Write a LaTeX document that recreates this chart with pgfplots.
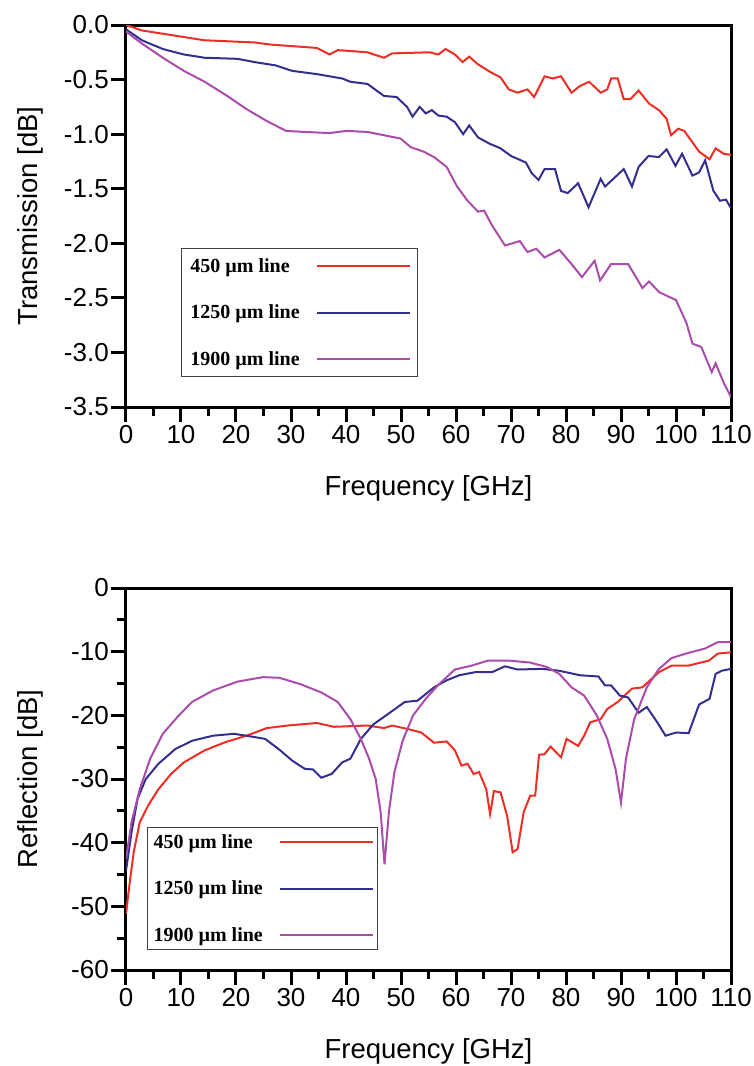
\documentclass[border=0pt]{standalone}
\usepackage{fontspec}
\setmainfont{Liberation Sans}
\newfontfamily\legfont{Liberation Serif}
\usepackage{pgfplots}
\pgfplotsset{compat=1.18}

\definecolor{cRed}{RGB}{236,46,36}
\definecolor{cBlue}{RGB}{52,46,140}
\definecolor{cPurple}{RGB}{170,76,170}

\pgfplotsset{
  panel/.style={
    scale only axis, width=605pt, height=382pt,
    xmin=0, xmax=110,
    xtick={0,10,...,110}, minor xtick={5,15,...,105},
    xtick pos=bottom, ytick pos=left,
    tick align=outside,
    major tick length=15pt, minor tick length=9pt,
    every tick/.style={black, line width=3pt},
    axis line style={line width=3pt},
    tick label style={font=\fontsize{26}{30}\selectfont},
    xticklabel style={inner sep=3pt},
    yticklabel style={inner sep=2pt},
    /pgf/number format/assume math mode=true,
    label style={font=\fontsize{27.5}{31}\selectfont},
    xlabel={Frequency [GHz]},
    xlabel style={at={([yshift=-81pt]axis description cs:0.5,0)}, anchor=center},
    ylabel style={at={([xshift=-96pt]axis description cs:0,0.5)}, anchor=center},
    legend plot pos=right,
    legend cell align=left,
    legend image code/.code={\draw[#1] (0pt,0pt) -- (93pt,0pt);},
    legend style={draw=black!75, line width=0.8pt, anchor=north west,
      font=\legfont\bfseries\fontsize{20}{23}\selectfont,
      row sep=27pt, column sep=14pt, inner xsep=7pt, inner ysep=8pt},
    every axis plot/.append style={line width=2pt},
  }
}

\begin{document}
\begin{tikzpicture}
\useasboundingbox (-126pt,25pt) rectangle (628pt,-1041pt);

% transmission
\begin{axis}[panel, at={(0,0)}, anchor=north west,
  ymin=-3.5, ymax=0,
  ytick={0,-0.5,-1,-1.5,-2,-2.5,-3,-3.5},
  yticklabels={0.0,-0.5,-1.0,-1.5,-2.0,-2.5,-3.0,-3.5},
  ylabel={Transmission [dB]},
  legend style={at={(rel axis cs:0.091,0.416)}}]
\addplot[cRed] coordinates {
 (0,0) (2.9,-0.05) (6.7,-0.08) (14.3,-0.14) (23.4,-0.16) (26.4,-0.18)
 (34.7,-0.21) (37,-0.27) (38.5,-0.23) (43.9,-0.25) (46.9,-0.30) (48.4,-0.26)
 (55.2,-0.25) (56.8,-0.27) (58.1,-0.22) (59.8,-0.27) (61.2,-0.34) (62.4,-0.29)
 (64,-0.36) (66.2,-0.43) (68.1,-0.48) (69.6,-0.59) (71.2,-0.62) (73,-0.59)
 (74.2,-0.66) (76.1,-0.47) (77.6,-0.49) (79.1,-0.47) (81,-0.62) (82.5,-0.56)
 (84.2,-0.52) (86.3,-0.62) (87.5,-0.59) (88.2,-0.49) (89.4,-0.49) (90.5,-0.68)
 (91.7,-0.68) (93.2,-0.60) (95.1,-0.72) (96.9,-0.78) (98.3,-0.86) (99.1,-1.01)
 (100.4,-0.95) (101.5,-0.97) (104.2,-1.16) (106.1,-1.23) (107.2,-1.13)
 (108.7,-1.18) (110,-1.19)
};
\addplot[cBlue] coordinates {
 (0,-0.04) (2.9,-0.14) (6.7,-0.22) (10.5,-0.27) (14.3,-0.30) (20.3,-0.31)
 (23.4,-0.34) (27.2,-0.37) (30.2,-0.42) (34.7,-0.45) (39.3,-0.49) (40.8,-0.52)
 (43.9,-0.54) (46.9,-0.65) (49.2,-0.66) (51.1,-0.75) (52.1,-0.84) (53.4,-0.75)
 (54.5,-0.81) (55.6,-0.78) (56.8,-0.83) (58.3,-0.84) (59.8,-0.89) (61.3,-1.00)
 (62.4,-0.92) (64,-1.03) (66.2,-1.09) (68.1,-1.13) (70,-1.20) (72.7,-1.26)
 (73.8,-1.36) (75,-1.42) (76.1,-1.32) (78,-1.32) (79.1,-1.52) (80.3,-1.54)
 (82.2,-1.45) (84.1,-1.67) (86.3,-1.41) (87.1,-1.48) (88.6,-1.41) (90.5,-1.32)
 (92,-1.48) (93.2,-1.30) (95,-1.20) (96.9,-1.21) (98.3,-1.14) (99.9,-1.29)
 (101.1,-1.18) (103,-1.38) (104.2,-1.35) (105.3,-1.24) (106.8,-1.52)
 (108,-1.61) (109.1,-1.60) (110,-1.68)
};
\addplot[cPurple] coordinates {
 (0,-0.06) (2.9,-0.17) (6.7,-0.30) (10.5,-0.42) (14.3,-0.52) (18.1,-0.64)
 (21.9,-0.77) (25.6,-0.88) (29.1,-0.97) (32.5,-0.98) (37,-0.99) (40.1,-0.97)
 (43.9,-0.98) (46.9,-1.01) (49.9,-1.04) (51.8,-1.12) (54.1,-1.16) (56,-1.21)
 (58.3,-1.30) (60.2,-1.48) (62.1,-1.61) (64,-1.71) (65.1,-1.70) (66.6,-1.84)
 (68.9,-2.02) (71.6,-1.98) (73,-2.08) (74.6,-2.05) (76.1,-2.13) (78.8,-2.06)
 (81,-2.19) (82.9,-2.31) (85.2,-2.16) (86.2,-2.34) (88.2,-2.19) (91.3,-2.19)
 (93.9,-2.41) (95.1,-2.35) (97,-2.45) (100,-2.52) (101.9,-2.73) (103,-2.92)
 (104.6,-2.95) (106.5,-3.18) (107.2,-3.10) (108.7,-3.28) (110,-3.41)
};
\legend{450 µm line,1250 µm line,1900 µm line}
\end{axis}

% reflection
\begin{axis}[panel, at={(0,-563pt)}, anchor=north west,
  ymin=-60, ymax=0,
  ytick={0,-10,-20,-30,-40,-50,-60}, minor ytick={-5,-15,-25,-35,-45,-55},
  yticklabels={0,-10,-20,-30,-40,-50,-60},
  ylabel={Reflection [dB]},
  legend style={at={(rel axis cs:0.035,0.374)}, inner xsep=4pt, inner ysep=5pt}]
\addplot[cRed] coordinates {
 (0,-51.2) (0.6,-46.8) (1.4,-41.5) (2.5,-36.8) (4,-34.2) (5.9,-31.6)
 (8.2,-29.2) (10.5,-27.4) (14.3,-25.5) (18.1,-24.2) (21.9,-23.2) (25.6,-22.0)
 (29.4,-21.6) (34.7,-21.2) (37.8,-21.8) (43.9,-21.6) (46.9,-22.0) (48.4,-21.6)
 (51.5,-22.2) (53.7,-22.7) (56,-24.3) (58.3,-24.1) (59.8,-25.5) (61,-27.9)
 (62.1,-27.6) (63.2,-29.2) (64.2,-28.9) (65.5,-31.6) (66.2,-35.5) (66.9,-31.9)
 (68.1,-32.1) (69.3,-35.8) (70.3,-41.5) (71.2,-41.0) (72.3,-35.2) (73.5,-32.6)
 (74.4,-32.6) (75.1,-26.2) (76.1,-26.1) (77.2,-24.9) (79.1,-26.6) (80.1,-23.7)
 (82.2,-24.8) (83.3,-23.2) (84.4,-21.1) (86.3,-20.6) (87.5,-19.0) (89.4,-17.9)
 (92,-15.8) (93.9,-15.6) (96.9,-13.2) (99.2,-12.2) (102.2,-12.2) (106,-11.4)
 (107.6,-10.3) (110,-10.1)
};
\addplot[cBlue] coordinates {
 (0,-44.4) (1,-38.4) (2.1,-33.1) (3.6,-30.0) (5.9,-27.6) (8.95,-25.3)
 (12,-24.0) (15.8,-23.2) (19.6,-22.9) (21.9,-23.2) (25.3,-23.7) (27.9,-25.4)
 (30.2,-27.1) (32.5,-28.4) (34,-28.5) (35.5,-29.8) (37.4,-29.2) (39.3,-27.4)
 (40.8,-26.8) (42.7,-23.7) (45,-21.4) (47.3,-20.0) (50.7,-17.9) (53,-17.7)
 (56,-15.6) (58.3,-14.5) (60.6,-13.7) (63.6,-13.2) (66.6,-13.2) (68.9,-12.3)
 (71.2,-12.8) (75.7,-12.7) (78.8,-13.0) (82.5,-13.7) (85.9,-13.9) (87.1,-15.3)
 (88.2,-15.3) (89.8,-16.9) (91.3,-17.2) (93.2,-19.6) (94.7,-18.7) (96.6,-21.1)
 (98.1,-23.2) (100,-22.7) (102.3,-22.8) (104.2,-18.3) (106.1,-17.4)
 (107.2,-13.5) (108.3,-13.0) (110,-12.7)
};
\addplot[cPurple] coordinates {
 (0,-42.6) (1,-36.8) (2.5,-31.6) (4.4,-26.8) (6.7,-22.9) (9.3,-20.3)
 (12,-17.9) (15.8,-16.1) (20.3,-14.7) (24.9,-14.0) (27.9,-14.1) (31.7,-15.1)
 (35.5,-16.4) (38.5,-17.9) (40.8,-20.6) (42.7,-23.7) (44.2,-26.8) (45.4,-30.0)
 (46.3,-35.2) (47,-43.4) (47.8,-35.2) (48.8,-28.9) (50.3,-24.0) (52.2,-20.0)
 (54.5,-17.4) (56.8,-15.2) (59.8,-12.8) (62.8,-12.2) (65.8,-11.4) (69.6,-11.4)
 (73.4,-11.7) (76.5,-12.4) (78.8,-13.5) (81,-15.6) (83.3,-16.9) (85.6,-20.0)
 (87.5,-23.7) (89,-28.4) (90,-33.7) (90.9,-26.8) (92.4,-20.6) (94.7,-15.6)
 (96.9,-12.7) (99.2,-11.0) (102.2,-10.2) (105.3,-9.5) (107.6,-8.5) (110,-8.5)
};
\legend{450 µm line,1250 µm line,1900 µm line}
\end{axis}
\end{tikzpicture}
\end{document}
